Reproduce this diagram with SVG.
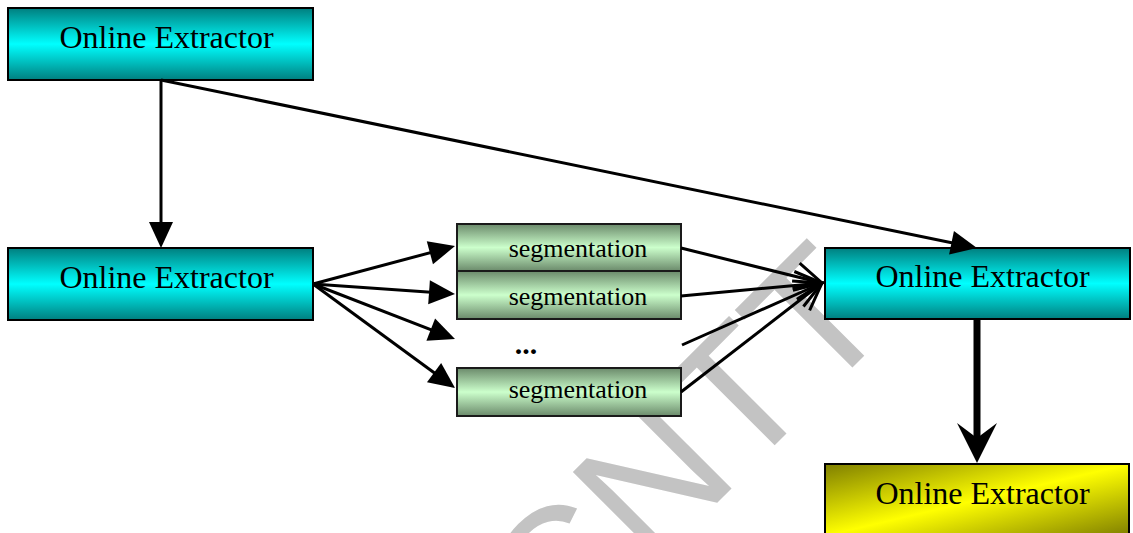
<svg xmlns="http://www.w3.org/2000/svg" width="1133" height="533" viewBox="0 0 1133 533">
  <style>
    .box { stroke: #000; stroke-width: 2; }
    .cyan { fill: url(#gCyan); }
    .green { fill: url(#gGreen); stroke: #1a1a1a; }
    .yellow { fill: url(#gYellow); }
    .lbl { font-family: "Liberation Serif", "Times New Roman", serif; font-size: 32px; fill: #000; text-anchor: middle; }
    .seg { font-family: "Liberation Serif", "Times New Roman", serif; font-size: 26px; fill: #000; text-anchor: middle; }
    .dots { font-family: "Liberation Serif", "Times New Roman", serif; font-size: 30px; font-weight: bold; fill: #000; text-anchor: middle; }
    .wm { font-family: "Liberation Sans", Arial, sans-serif; font-size: 180px; fill: #c3c3c3; }
    .ln { stroke: #000; stroke-width: 3; fill: none; }
    .thick { stroke: #000; stroke-width: 7; fill: none; }
  </style>
  <defs>
    <linearGradient id="gCyan" x1="0" y1="0" x2="0" y2="1">
      <stop offset="0" stop-color="#007f7f"/>
      <stop offset="0.5" stop-color="#00ffff"/>
      <stop offset="1" stop-color="#007f7f"/>
    </linearGradient>
    <linearGradient id="gGreen" x1="0" y1="0" x2="0" y2="1">
      <stop offset="0" stop-color="#6b8a6b"/>
      <stop offset="0.5" stop-color="#ccffcc"/>
      <stop offset="1" stop-color="#6b8a6b"/>
    </linearGradient>
    <linearGradient id="gYellow" x1="0" y1="0" x2="1" y2="1">
      <stop offset="0" stop-color="#7f7f00"/>
      <stop offset="0.5" stop-color="#ffff00"/>
      <stop offset="1" stop-color="#7f7f00"/>
    </linearGradient>
    <!-- solid triangular head; tip sits 6px past the line end -->
    <marker id="solid" markerUnits="userSpaceOnUse" viewBox="0 0 26 24" markerWidth="26" markerHeight="24" refX="20" refY="12" orient="auto" overflow="visible">
      <path d="M0,0 L26,12 L0,24 z" fill="#000"/>
    </marker>
    <!-- open chevron head; tip at the line end -->
    <marker id="open" markerUnits="userSpaceOnUse" viewBox="-30 -16 34 32" markerWidth="34" markerHeight="32" refX="0" refY="0" orient="auto" overflow="visible">
      <path d="M-26.5,-14 L0,0 L-26.5,14" fill="none" stroke="#000" stroke-width="3"/>
    </marker>
    <!-- barbed head for the heavy arrow -->
    <marker id="barb" markerUnits="userSpaceOnUse" viewBox="0 0 40 40" markerWidth="40" markerHeight="40" refX="22" refY="20" orient="auto" overflow="visible">
      <path d="M0,0 L40,20 L0,40 L15,20 z" fill="#000"/>
    </marker>
  </defs>

  <!-- background watermark -->
  <text class="wm" transform="translate(558,662) rotate(-45)">CNTT</text>

  <g id="extractor-top">
    <rect class="box cyan" x="8" y="8" width="305" height="72"/>
    <text class="lbl" x="166.5" y="48">Online Extractor</text>
  </g>
  <g id="extractor-left">
    <rect class="box cyan" x="8" y="248" width="305" height="72"/>
    <text class="lbl" x="166.5" y="288">Online Extractor</text>
  </g>
  <g id="seg-1">
    <rect class="box green" x="457" y="224" width="224" height="47"/>
    <text class="seg" x="578" y="257">segmentation</text>
  </g>
  <g id="seg-2">
    <rect class="box green" x="457" y="271" width="224" height="48"/>
    <text class="seg" x="578" y="305">segmentation</text>
  </g>
  <g id="seg-more">
    <text class="dots" x="526" y="354">...</text>
  </g>
  <g id="seg-n">
    <rect class="box green" x="457" y="368" width="224" height="48"/>
    <text class="seg" x="578" y="398">segmentation</text>
  </g>
  <g id="extractor-right">
    <rect class="box cyan" x="825" y="248" width="305" height="71"/>
    <text class="lbl" x="982.5" y="287">Online Extractor</text>
  </g>
  <g id="extractor-out">
    <rect class="box yellow" x="825" y="464" width="304" height="72"/>
    <text class="lbl" x="982.5" y="504">Online Extractor</text>
  </g>

  <g id="connectors">
    <line class="ln" x1="161" y1="80" x2="161" y2="242" marker-end="url(#solid)"/>
    <line class="ln" x1="161" y1="80" x2="971.1" y2="246.8" marker-end="url(#solid)"/>
    <line class="ln" x1="313" y1="284" x2="449.2" y2="247.6" marker-end="url(#solid)"/>
    <line class="ln" x1="313" y1="284" x2="449" y2="293.6" marker-end="url(#solid)"/>
    <line class="ln" x1="313" y1="284" x2="449.4" y2="336.8" marker-end="url(#solid)"/>
    <line class="ln" x1="313" y1="284" x2="450.2" y2="384.5" marker-end="url(#solid)"/>
    <line class="ln" x1="681" y1="248" x2="822" y2="283" marker-end="url(#open)"/>
    <line class="ln" x1="681" y1="296" x2="822" y2="283" marker-end="url(#open)"/>
    <line class="ln" x1="682" y1="345" x2="822" y2="283" marker-end="url(#open)"/>
    <line class="ln" x1="681" y1="392" x2="822" y2="283" marker-end="url(#open)"/>
    <line class="thick" x1="977" y1="319" x2="977" y2="445" marker-end="url(#barb)"/>
  </g>
</svg>
